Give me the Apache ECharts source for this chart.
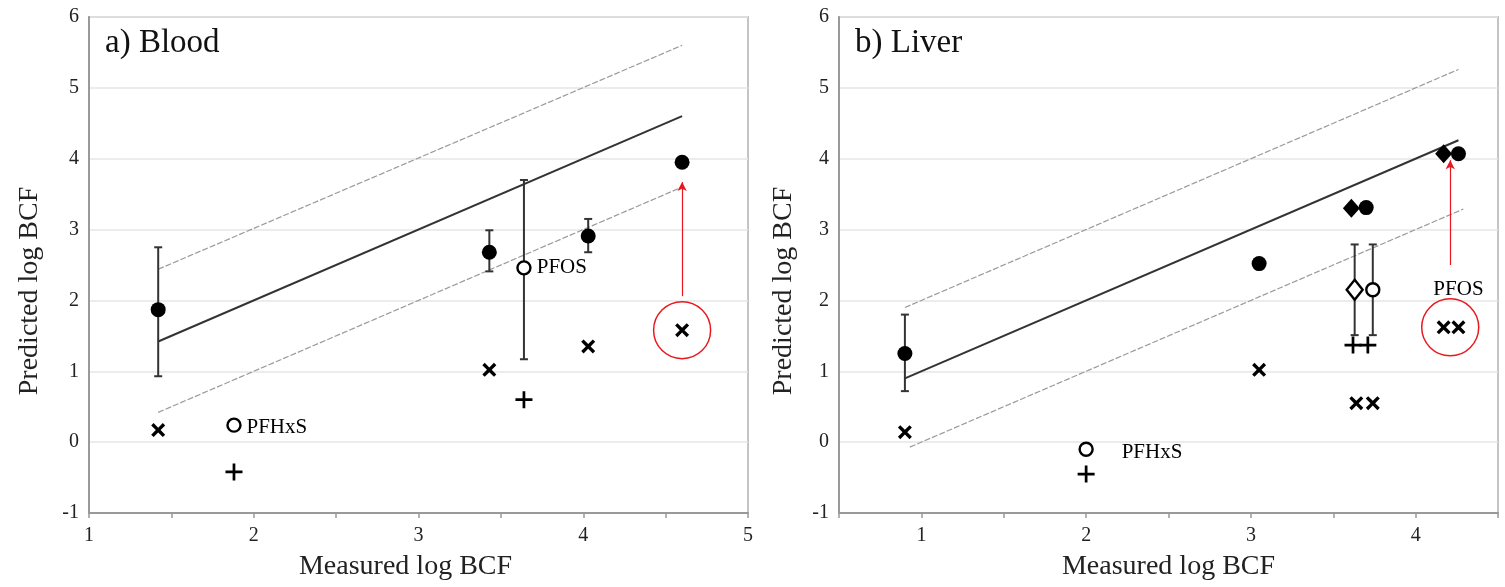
<!DOCTYPE html>
<html>
<head>
<meta charset="utf-8">
<script src="https://cdn.jsdelivr.net/npm/echarts@6/dist/echarts.min.js"></script>
<style>
  html, body { margin: 0; padding: 0; background: #fff; }
  #main { width: 1505px; height: 587px; }
</style>
</head>
<body>
<div id="main"></div>
<script>
// a) Blood
var bloodLine = [[1.42, 1.42], [4.6, 4.6]];
var bloodUpper = [[1.42, 2.44], [4.6, 5.6]];
var bloodLower = [[1.42, 0.42], [4.6, 3.6]];
var bloodFilled = [[1.42, 1.87], [3.43, 2.68], [4.03, 2.91], [4.6, 3.95]];
var bloodOpen = [[3.64, 2.46], [1.88, 0.24]];
var bloodErr = [[1.42, 0.93, 2.75], [3.43, 2.41, 2.99], [4.03, 2.68, 3.15], [3.64, 1.17, 3.7]];
var bloodCross = [[1.42, 0.17], [3.43, 1.02], [4.03, 1.35], [4.6, 1.58]];
var bloodPlus = [[1.88, -0.42], [3.64, 0.6]];
var bloodRing = [[4.6, 1.58]];
var bloodArrow = [[4.6, 2.06], [4.6, 3.67]];
var bloodNotes = [[3.87, 2.46, 'PFOS'], [2.14, 0.21, 'PFHxS']];

// b) Liver
var liverLine = [[0.9, 0.9], [4.26, 4.26]];
var liverUpper = [[0.9, 1.9], [4.26, 5.26]];
var liverLower = [[0.93, -0.07], [4.29, 3.29]];
var liverFilled = [[0.9, 1.25], [3.05, 2.52], [3.7, 3.31], [4.26, 4.07]];
var liverDiamond = [[3.61, 3.3], [4.17, 4.07]];
var liverOpen = [[3.74, 2.15], [2.0, -0.1]];
var liverOpenDiamond = [[3.63, 2.15]];
var liverErr = [[0.9, 0.72, 1.8], [3.63, 1.51, 2.79], [3.74, 1.51, 2.79]];
var liverCross = [[0.9, 0.14], [3.05, 1.02], [3.64, 0.55], [3.74, 0.55], [4.17, 1.62], [4.26, 1.62]];
var liverPlus = [[2.0, -0.45], [3.62, 1.37], [3.71, 1.37]];
var liverRing = [[4.21, 1.62]];
var liverArrow = [[4.21, 2.5], [4.21, 3.98]];
var liverNotes = [[2.4, -0.15, 'PFHxS'], [4.26, 2.15, 'PFOS']];

var yTicks = [-1, 0, 1, 2, 3, 4, 5, 6];

var FONT = '"Liberation Serif", "Times New Roman", serif';
var crossPath = 'path://M0,1.7L1.7,0L5,3.3L8.3,0L10,1.7L6.7,5L10,8.3L8.3,10L5,6.7L1.7,10L0,8.3L3.3,5Z';
var plusPath = 'path://M4.2,0H5.8V4.2H10V5.8H5.8V10H4.2V5.8H0V4.2H4.2Z';

function errRender(params, api) {
  var x = api.value(0);
  var lo = api.coord([x, api.value(1)]);
  var hi = api.coord([x, api.value(2)]);
  var st = { stroke: '#333', lineWidth: 2 };
  return {
    type: 'group',
    children: [
      { type: 'line', shape: { x1: lo[0], y1: lo[1], x2: hi[0], y2: hi[1] }, style: st },
      { type: 'line', shape: { x1: lo[0] - 4, y1: lo[1], x2: lo[0] + 4, y2: lo[1] }, style: st },
      { type: 'line', shape: { x1: hi[0] - 4, y1: hi[1], x2: hi[0] + 4, y2: hi[1] }, style: st }
    ]
  };
}

function xAxisOpt(idx, min, max, pad) {
  return {
    gridIndex: idx, type: 'value', min: min, max: max, interval: 0.5,
    name: 'Measured log BCF', nameLocation: 'middle', nameGap: 40,
    nameTextStyle: { fontFamily: FONT, fontSize: 28, color: '#222', padding: pad },
    axisLine: { onZero: false, lineStyle: { color: '#999', width: 2 } },
    axisTick: { show: true, length: 5, lineStyle: { color: '#999', width: 1.5 } },
    axisLabel: {
      fontFamily: FONT, fontSize: 20, color: '#222', margin: 13,
      formatter: function (v) { return Math.abs(v - Math.round(v)) < 1e-6 ? String(Math.round(v)) : ''; }
    },
    splitLine: { show: false }
  };
}

function yAxisOpt(idx, gap) {
  return {
    gridIndex: idx, type: 'value', min: yTicks[0], max: yTicks[yTicks.length - 1], interval: 1,
    name: 'Predicted log BCF', nameLocation: 'middle', nameGap: gap,
    nameTextStyle: { fontFamily: FONT, fontSize: 28, color: '#222', padding: [0, 52, 0, 0] },
    axisLine: { show: true, onZero: false, lineStyle: { color: '#999', width: 2 } },
    axisTick: { show: false },
    axisLabel: { fontFamily: FONT, fontSize: 20, color: '#222', margin: 10 },
    splitLine: { lineStyle: { color: '#e6e6e6', width: 1.5 } }
  };
}

function panelSeries(idx, d) {
  var base = { xAxisIndex: idx, yAxisIndex: idx, silent: true, animation: false };
  function s(o) { return Object.assign({}, base, o); }
  return [
    s({ type: 'line', data: d.upper, symbol: 'none', lineStyle: { color: '#9a9a9a', width: 1.2, type: [6, 2] }, z: 2 }),
    s({ type: 'line', data: d.lower, symbol: 'none', lineStyle: { color: '#9a9a9a', width: 1.2, type: [6, 2] }, z: 2 }),
    s({ type: 'line', data: d.line, symbol: 'none', lineStyle: { color: '#333', width: 2 }, z: 3 }),
    s({ type: 'custom', data: d.err, renderItem: errRender, z: 4 }),
    s({ type: 'scatter', data: d.cross, symbol: crossPath, symbolSize: 14, itemStyle: { color: '#000', opacity: 1 }, z: 5 }),
    s({ type: 'scatter', data: d.plus, symbol: plusPath, symbolSize: 17, itemStyle: { color: '#000', opacity: 1 }, z: 5 }),
    s({ type: 'scatter', data: d.filled, symbol: 'circle', symbolSize: 15, itemStyle: { color: '#000', opacity: 1 }, z: 6 }),
    s({ type: 'scatter', data: d.diamond || [], symbol: 'diamond', symbolSize: [17, 19], itemStyle: { color: '#000', opacity: 1 }, z: 6 }),
    s({ type: 'scatter', data: d.open, symbol: 'circle', symbolSize: 13, itemStyle: { color: '#fff', borderColor: '#000', borderWidth: 2.4, opacity: 1 }, z: 6 }),
    s({ type: 'scatter', data: d.openDiamond || [], symbol: 'diamond', symbolSize: [16, 20], itemStyle: { color: '#fff', borderColor: '#000', borderWidth: 2.4, opacity: 1 }, z: 6 }),
    s({ type: 'scatter', data: d.ring, symbol: 'circle', symbolSize: 57, itemStyle: { color: 'rgba(0,0,0,0)', borderColor: '#e8191e', borderWidth: 1.5, opacity: 1 }, z: 7,
      markLine: {
        silent: true, animation: false, symbol: ['none', 'arrow'], symbolSize: [7, 9],
        lineStyle: { color: '#e8191e', width: 1.2, type: 'solid' }, label: { show: false },
        data: [[{ coord: d.arrow[0] }, { coord: d.arrow[1] }]]
      }
    }),
    s({ type: 'scatter', data: d.notes, symbolSize: 0, z: 8, itemStyle: { opacity: 1 },
      label: { show: true, position: 'inside', formatter: function (p) { return p.data[2]; }, fontFamily: FONT, fontSize: 21, color: '#000' } })
  ];
}

var chart = echarts.init(document.getElementById('main'));
chart.setOption({
  backgroundColor: '#fff',
  animation: false,
  title: [
    { text: 'a) Blood', left: 100, top: 22, textStyle: { fontFamily: FONT, fontSize: 33, fontWeight: 'normal', color: '#111' } },
    { text: 'b) Liver', left: 850, top: 22, textStyle: { fontFamily: FONT, fontSize: 33, fontWeight: 'normal', color: '#111' } }
  ],
  grid: [
    { left: 89, right: 757, top: 17, bottom: 74, show: true, borderColor: '#c4c4c4', borderWidth: 2 },
    { left: 839, right: 7, top: 17, bottom: 74, show: true, borderColor: '#c4c4c4', borderWidth: 2 }
  ],
  xAxis: [xAxisOpt(0, 1, 5, [0, 26, 0, 0]), xAxisOpt(1, 0.5, 4.5, [0, 0, 0, 0])],
  yAxis: [yAxisOpt(0, 45), yAxisOpt(1, 41)],
  series: panelSeries(0, {
    line: bloodLine, upper: bloodUpper, lower: bloodLower, err: bloodErr, filled: bloodFilled,
    open: bloodOpen, cross: bloodCross, plus: bloodPlus, ring: bloodRing, arrow: bloodArrow, notes: bloodNotes
  }).concat(panelSeries(1, {
    line: liverLine, upper: liverUpper, lower: liverLower, err: liverErr, filled: liverFilled,
    diamond: liverDiamond, open: liverOpen, openDiamond: liverOpenDiamond, cross: liverCross, plus: liverPlus,
    ring: liverRing, arrow: liverArrow, notes: liverNotes
  }))
});
</script>
</body>
</html>
